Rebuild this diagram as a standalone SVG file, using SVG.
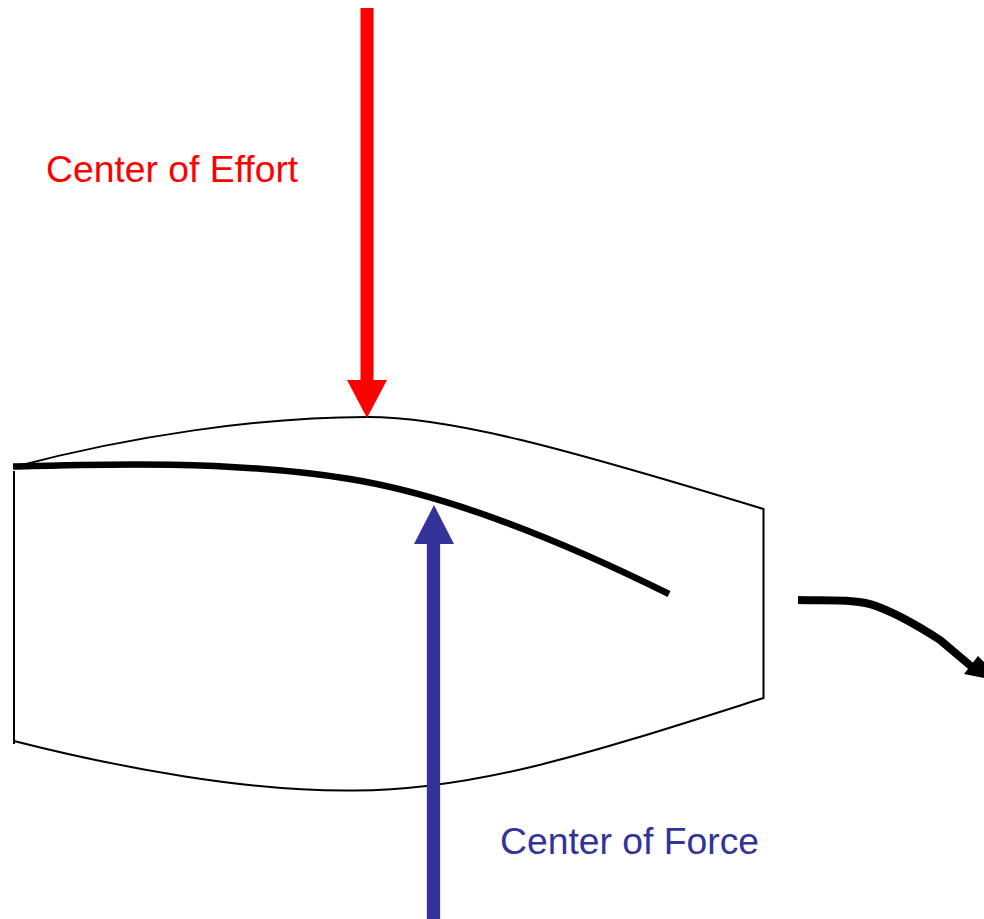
<svg xmlns="http://www.w3.org/2000/svg" width="984" height="919" viewBox="0 0 984 919">
<style>
.lbl{font-family:"Liberation Sans",Arial,sans-serif;font-size:37.3px}
.thin{fill:none;stroke:#000;stroke-width:2}
.thick{fill:none;stroke:#000;stroke-width:6.500}
.tail{fill:none;stroke:#000;stroke-width:8}
</style>
<rect width="984" height="919" fill="#fff"/>
<g id="airfoil">
<path class="thin" d="M14 467C130 436 260 417 367 417C450 417 560 447 763.500 509V698C600 750 480 790 355 790.500C250 792 120 768 14 741"/>
<path class="thin" d="M14 744V471"/>
<path class="thick" d="M13 466.500C100 464 230 460 350 479C430 492 530 525 669 594"/>
</g>
<g id="connectors">
<path d="M367 8V381" fill="none" stroke="#f00" stroke-width="13"/>
<polygon points="347,380 387,380 367,418" fill="#f00"/>
<path d="M433.500 919V543" fill="none" stroke="#333399" stroke-width="13.300"/>
<polygon points="414,544 454,544 434,505" fill="#333399"/>
<path class="tail" d="M798 600C830 601 858 599 876 606C895 613 920 627 940 640L972 667"/>
<polygon points="978,656 984,662 984,678 964,674" fill="#000"/>
</g>
<g id="label-effort"><text class="lbl" x="46" y="182" fill="#f00">Center of Effort</text></g>
<g id="label-force"><text class="lbl" x="500" y="854" fill="#333399">Center of Force</text></g>
</svg>
